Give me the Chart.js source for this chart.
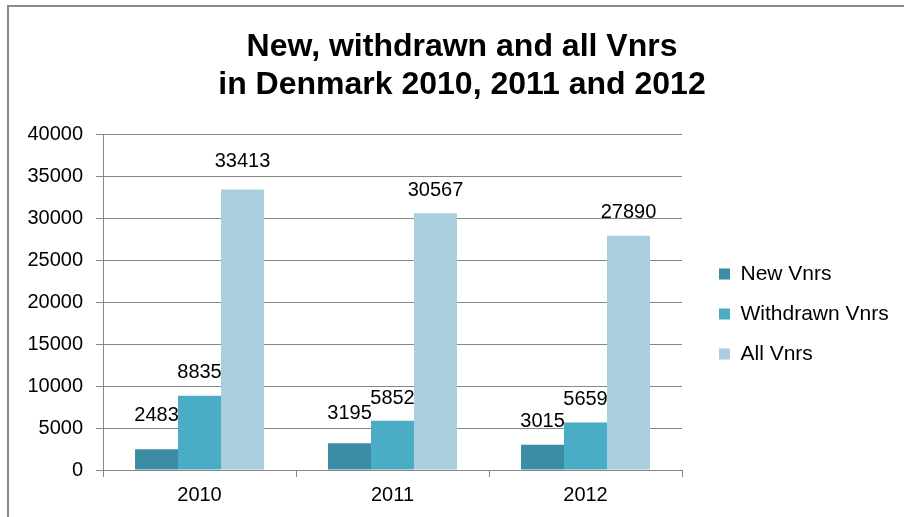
<!DOCTYPE html>
<html>
<head>
<meta charset="utf-8">
<title>New, withdrawn and all Vnrs in Denmark</title>
<script src="https://cdn.jsdelivr.net/npm/chart.js@4.4.1/dist/chart.umd.min.js"></script>
<style>
  html, body { margin: 0; padding: 0; background: #fff; }
  #wrap { position: relative; width: 904px; height: 517px; overflow: hidden; }
  #frame {
    position: absolute; left: 7px; top: 5px; width: 1000px; height: 1000px;
    border-left: 2px solid #8a8a8a; border-top: 2px solid #8a8a8a;
    pointer-events: none;
  }
  canvas { position: absolute; left: 0; top: 0; }
</style>
</head>
<body>
<div id="wrap">
  <canvas id="chart" width="904" height="517"></canvas>
  <div id="frame"></div>
</div>
<script>
// 데이터
const years = ['2010', '2011', '2012'];
const newVnrs = [2483, 3195, 3015];
const withdrawnVnrs = [8835, 5852, 5659];
const allVnrs = [33413, 30567, 27890];
const yTicks = [0, 5000, 10000, 15000, 20000, 25000, 30000, 35000, 40000];

// 값 레이블을 막대 위로 얼마나 올릴지 (px)
const labelLift = [
  [34, 30, 23],
  [23, 22, 23],
  [28, 23, 23]
];

const FONT = "'Liberation Sans', Arial, sans-serif";
const GRID = '#878787';

// 막대 위 값 표시
const valueLabels = {
  id: 'valueLabels',
  afterDatasetsDraw(chart) {
    const ctx = chart.ctx;
    ctx.save();
    ctx.font = '20px ' + FONT;
    ctx.fillStyle = '#000';
    ctx.textAlign = 'center';
    ctx.textBaseline = 'middle';
    chart.data.datasets.forEach((ds, i) => {
      chart.getDatasetMeta(i).data.forEach((bar, j) => {
        ctx.fillText(String(ds.data[j]), bar.x, bar.y - labelLift[i][j]);
      });
    });
    ctx.restore();
  }
};

// 범례 위치 조정
const legendNudge = {
  id: 'legendNudge',
  afterInit(chart) {
    const legend = chart.legend;
    const fit = legend.fit;
    legend.fit = function () {
      fit.call(this);
      this.width = 215;
    };
  },
  afterLayout(chart) {
    const legend = chart.legend;
    legend.left += 18;
    legend.right += 18;
    legend.top += 12;
    legend.bottom += 12;
  }
};

new Chart(document.getElementById('chart'), {
  type: 'bar',
  data: {
    labels: years,
    datasets: [
      { label: 'New Vnrs', data: newVnrs, backgroundColor: '#3c8ca3' },
      { label: 'Withdrawn Vnrs', data: withdrawnVnrs, backgroundColor: '#4bacc6' },
      { label: 'All Vnrs', data: allVnrs, backgroundColor: '#a9cedd' }
    ]
  },
  options: {
    responsive: false,
    animation: false,
    devicePixelRatio: 1,
    categoryPercentage: 0.668,
    barPercentage: 1,
    layout: { padding: { left: 27, right: 7, top: 26, bottom: 10 } },
    plugins: {
      title: {
        display: true,
        text: ['New, withdrawn and all Vnrs', 'in Denmark 2010, 2011 and 2012'],
        color: '#000',
        font: { family: FONT, size: 32, weight: 'bold', lineHeight: 1.19 },
        padding: { top: 2, bottom: 30 }
      },
      legend: {
        position: 'right',
        fullSize: false,
        labels: {
          boxWidth: 11,
          boxHeight: 11,
          padding: 19,
          color: '#000',
          font: { family: FONT, size: 21 }
        }
      },
      tooltip: { enabled: false }
    },
    scales: {
      x: {
        grid: {
          display: true,
          drawOnChartArea: false,
          drawTicks: true,
          tickLength: 7,
          color: GRID,
          offset: true
        },
        border: { color: GRID, width: 1 },
        ticks: { color: '#000', padding: 6, font: { family: FONT, size: 20 } },
        afterFit(scale) { scale.height = 37; }
      },
      y: {
        min: 0,
        max: 40000,
        afterBuildTicks(scale) { scale.ticks = yTicks.map(v => ({ value: v })); },
        grid: { color: GRID, tickLength: 7, drawTicks: true },
        border: { color: GRID, width: 1 },
        ticks: {
          color: '#000',
          padding: 13,
          font: { family: FONT, size: 20 },
          callback: v => String(v)
        },
        afterFit(scale) { scale.width = 76; }
      }
    }
  },
  plugins: [valueLabels, legendNudge]
});
</script>
</body>
</html>
